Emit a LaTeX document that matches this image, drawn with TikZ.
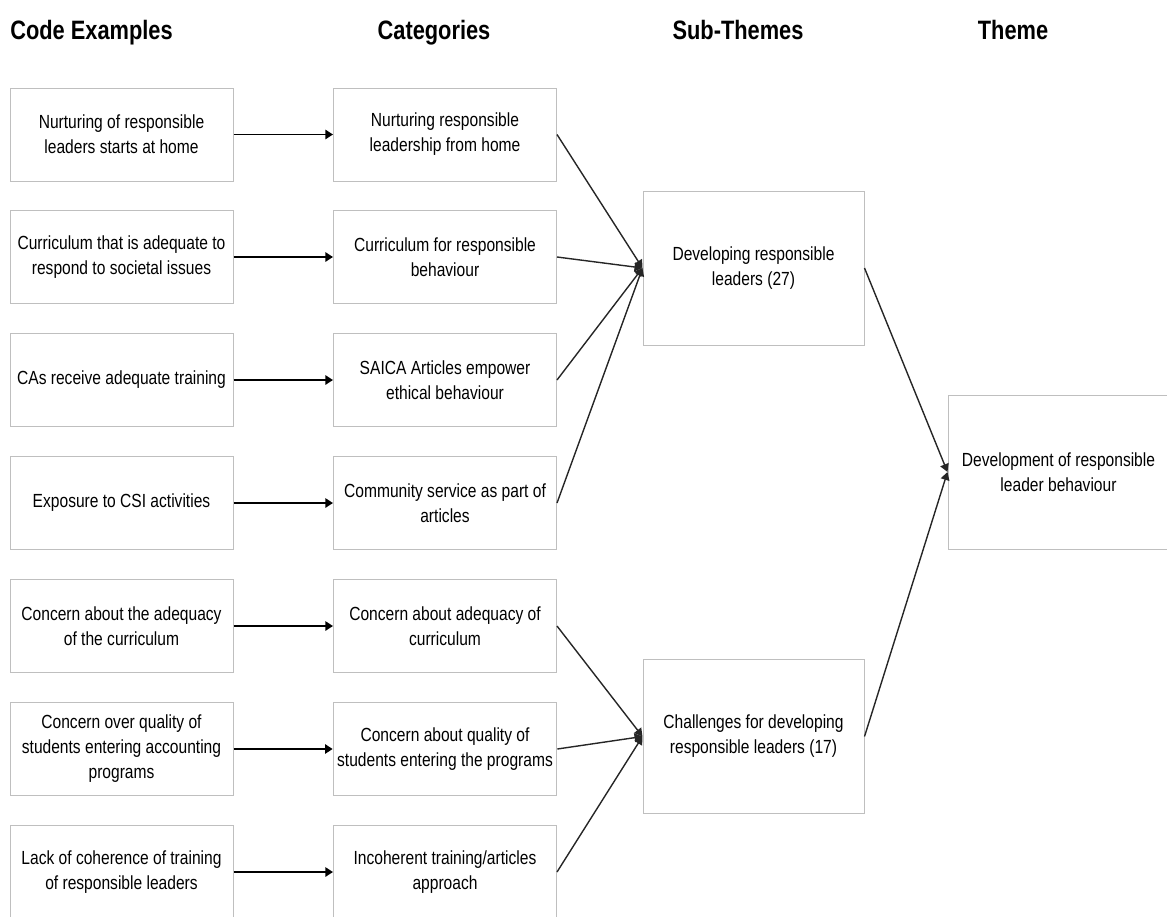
\documentclass[tikz,border=0pt]{standalone}
\usepackage{fontspec}
\setmainfont{Liberation Sans}[FakeStretch=0.82]
\usetikzlibrary{arrows.meta}
\tikzset{
    box/.style={draw=black!25, line width=0.5pt, align=center, inner sep=2pt, font=\fontsize{9.5}{12.5}\selectfont},
    codebox/.style={box, minimum width=111.5pt, minimum height=46.5pt},
    subbox/.style={box, minimum width=110.5pt, minimum height=77pt},
    head/.style={anchor=base, inner sep=0pt, font=\fontsize{13.3}{16}\selectfont\bfseries},
    link/.style={line width=0.95pt, -{Triangle[length=3.8pt,width=4.6pt]}},
    slant/.style={line width=0.7pt, black!85, -{Triangle[length=4pt,width=4.4pt]}}}

\begin{document}
\begin{tikzpicture}[x=0.5pt,y=-0.5pt]
\useasboundingbox (0,0) rectangle (1167,916);

% column headings
\node[head] (hcode) at (91.5,39) {Code Examples};
\node[head] (hcat) at (434,39) {Categories};
\node[head] (hsub) at (738,39) {Sub-Themes};
\node[head] (htheme) at (1013,39) {Theme};

% code examples
\node[codebox] (code1) at (121.5,134.5) {Nurturing of responsible\\leaders starts at home};
\node[codebox] (code2) at (121.5,257) {Curriculum that is adequate to\\respond to societal issues};
\node[codebox] (code3) at (121.5,380) {CAs receive adequate training};
\node[codebox] (code4) at (121.5,503) {Exposure to CSI activities};
\node[codebox] (code5) at (121.5,626) {Concern about the adequacy\\of the curriculum};
\node[codebox] (code6) at (121.5,749) {Concern over quality of\\students entering accounting\\programs};
\node[codebox] (code7) at (121.5,872) {Lack of coherence of training\\of responsible leaders};

% categories
\node[codebox] (cat1) at (445,134.5) {Nurturing responsible\\leadership from home};
\node[codebox] (cat2) at (445,257) {Curriculum for responsible\\behaviour};
\node[codebox] (cat3) at (445,380) {SAICA Articles empower\\ethical behaviour};
\node[codebox] (cat4) at (445,503) {Community service as part of\\articles};
\node[codebox] (cat5) at (445,626) {Concern about adequacy of\\curriculum};
\node[codebox] (cat6) at (445,749) {Concern about quality of\\students entering the programs};
\node[codebox] (cat7) at (445,872) {Incoherent training/articles\\approach};

% sub-themes and theme
\node[subbox] (sub1) at (753.5,268) {Developing responsible\\leaders (27)};
\node[subbox] (sub2) at (753.5,736.5) {Challenges for developing\\responsible leaders (17)};
\node[subbox] (theme) at (1058.5,472) {Development of responsible\\leader behaviour};

%draw connectors
\foreach \i in {1,...,7}
    \draw[link] (code\i) -- (cat\i);
\foreach \i in {1,...,4}
    \draw[slant] (cat\i.east) -- (sub1.west);
\foreach \i in {5,6,7}
    \draw[slant] (cat\i.east) -- (sub2.west);
\draw[slant] (sub1.east) -- (theme.west);
\draw[slant] (sub2.east) -- (theme.west);

\end{tikzpicture}
\end{document}
